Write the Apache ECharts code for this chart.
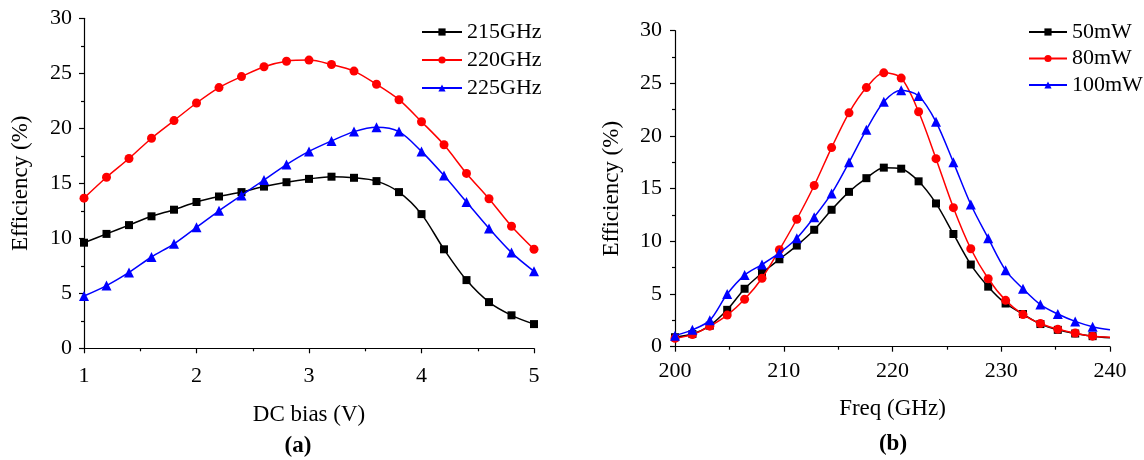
<!DOCTYPE html>
<html>
<head>
<meta charset="utf-8">
<script src="https://cdn.jsdelivr.net/npm/echarts@6/dist/echarts.min.js"></script>
<style>html,body{margin:0;padding:0;background:#fff}#c{width:1144px;height:460px}</style>
</head>
<body>
<div id="c"></div>
<script>
// ---- Data: panel (a) ----
const biasV = [1, 1.2, 1.4, 1.6, 1.8, 2, 2.2, 2.4, 2.6, 2.8, 3, 3.2, 3.4, 3.6, 3.8, 4, 4.2, 4.4, 4.6, 4.8, 5];
const eff215 = [9.6, 10.4, 11.2, 12.0, 12.6, 13.3, 13.8, 14.2, 14.7, 15.1, 15.4, 15.6, 15.5, 15.2, 14.2, 12.2, 9.0, 6.2, 4.2, 3.0, 2.2];
const eff220 = [13.65, 15.55, 17.25, 19.1, 20.7, 22.3, 23.7, 24.7, 25.6, 26.1, 26.2, 25.8, 25.2, 24.0, 22.6, 20.6, 18.5, 15.9, 13.6, 11.1, 9.0];
const eff225 = [4.75, 5.7, 6.9, 8.3, 9.5, 11.0, 12.5, 13.9, 15.3, 16.7, 17.9, 18.85, 19.7, 20.1, 19.7, 17.9, 15.7, 13.3, 10.9, 8.7, 7.0];
const namesA = ['215GHz', '220GHz', '225GHz'];

// ---- Data: panel (b) ----
const freqGHz = [200, 201.6, 203.2, 204.8, 206.4, 208, 209.6, 211.2, 212.8, 214.4, 216, 217.6, 219.2, 220.8, 222.4, 224, 225.6, 227.2, 228.8, 230.4, 232, 233.6, 235.2, 236.8, 238.4];
const eff50 = [0.9, 1.2, 2.0, 3.5, 5.5, 7.0, 8.3, 9.6, 11.1, 13.0, 14.7, 16.0, 17.0, 16.9, 15.7, 13.6, 10.7, 7.8, 5.7, 4.1, 3.1, 2.15, 1.6, 1.25, 1.0];
const eff80 = [0.8, 1.15, 1.95, 3.0, 4.5, 6.5, 9.2, 12.1, 15.3, 18.9, 22.2, 24.6, 26.0, 25.5, 22.3, 17.85, 13.2, 9.3, 6.45, 4.4, 3.05, 2.2, 1.65, 1.3, 1.0];
const eff100 = [1.05, 1.6, 2.5, 5.0, 6.8, 7.8, 8.9, 10.3, 12.3, 14.55, 17.5, 20.6, 23.25, 24.35, 23.8, 21.35, 17.5, 13.5, 10.3, 7.25, 5.5, 4.0, 3.1, 2.4, 1.9];
// line end points at the right border (no marker)
const endFreq = 240;
const endEff = [0.85, 0.9, 1.6];
const namesB = ['50mW', '80mW', '100mW'];

// ---- Text ----
const yName = 'Efficiency (%)';
const xNameA = 'DC bias (V)';
const xNameB = 'Freq (GHz)';
const panelA = '(a)';
const panelB = '(b)';

const FONT = "'Liberation Serif', 'Times New Roman', serif";
const colors = ['#000000', '#ff0000', '#0000ff'];
const symbols = ['rect', 'circle', 'triangle'];
const symSizes = [8, 9, 10];

function pairs(xs, ys) { return xs.map((x, i) => [x, ys[i]]); }

function axisCommon(extra, labelMargin) {
  return Object.assign({
    type: 'value',
    axisLine: { show: true, onZero: false, lineStyle: { color: '#000', width: 1.2 } },
    axisTick: { show: true, inside: false, length: 5, lineStyle: { color: '#000', width: 1.2 } },
    minorTick: { show: true, splitNumber: 2, length: 3, lineStyle: { color: '#000', width: 1.2 } },
    splitLine: { show: false },
    axisLabel: { color: '#000', fontFamily: FONT, fontSize: 22, margin: labelMargin },
    nameTextStyle: { color: '#000', fontFamily: FONT, fontSize: 23 },
    nameLocation: 'middle'
  }, extra);
}

const series = [];
const dA = [eff215, eff220, eff225];
dA.forEach((arr, i) => {
  series.push({
    name: namesA[i], type: 'line', xAxisIndex: 0, yAxisIndex: 0,
    data: pairs(biasV, arr), smooth: 0.3,
    symbol: symbols[i], symbolSize: symSizes[i],
    lineStyle: { color: colors[i], width: 1.5 },
    itemStyle: { color: colors[i] },
    z: 2 + i, clip: false
  });
});
const dB = [eff50, eff80, eff100];
dB.forEach((arr, i) => {
  const data = pairs(freqGHz, arr);
  data.push({ value: [endFreq, endEff[i]], symbol: 'none' });
  series.push({
    name: namesB[i], type: 'line', xAxisIndex: 1, yAxisIndex: 1,
    data: data, smooth: 0.3,
    symbol: symbols[i], symbolSize: symSizes[i],
    lineStyle: { color: colors[i], width: 1.5 },
    itemStyle: { color: colors[i] },
    z: 2 + i, clip: false
  });
});

const chart = echarts.init(document.getElementById('c'), null, { renderer: 'canvas' });
chart.setOption({
  animation: false,
  backgroundColor: '#fff',
  textStyle: { fontFamily: FONT },
  grid: [
    { left: 84, top: 18.3, width: 450, height: 330 },
    { left: 675, top: 30.7, width: 435, height: 316 }
  ],
  xAxis: [
    axisCommon({ gridIndex: 0, min: 1, max: 5, interval: 1, name: xNameA, nameGap: 55 }, 17),
    axisCommon({ gridIndex: 1, min: 200, max: 240, interval: 10, name: xNameB, nameGap: 51 }, 14)
  ],
  yAxis: [
    axisCommon({ gridIndex: 0, min: 0, max: 30, interval: 5, name: yName, nameGap: 52 }, 12),
    axisCommon({ gridIndex: 1, min: 0, max: 30, interval: 5, name: yName, nameGap: 52 }, 13)
  ],
  legend: [
    { data: namesA, orient: 'vertical', left: 416, top: 16, itemWidth: 40, itemHeight: 9, itemGap: 6,
      textStyle: { color: '#000', fontFamily: FONT, fontSize: 22 } },
    { data: namesB, orient: 'vertical', left: 1023, top: 16, itemWidth: 38, itemHeight: 9, itemGap: 4.5,
      textStyle: { color: '#000', fontFamily: FONT, fontSize: 22 } }
  ],
  graphic: [
    { type: 'text', x: 298, y: 446, style: { text: panelA, font: "bold 23px " + FONT, fill: '#000', align: 'center', verticalAlign: 'middle' } },
    { type: 'text', x: 893, y: 444, style: { text: panelB, font: "bold 23px " + FONT, fill: '#000', align: 'center', verticalAlign: 'middle' } }
  ],
  series: series
});
</script>
</body>
</html>
